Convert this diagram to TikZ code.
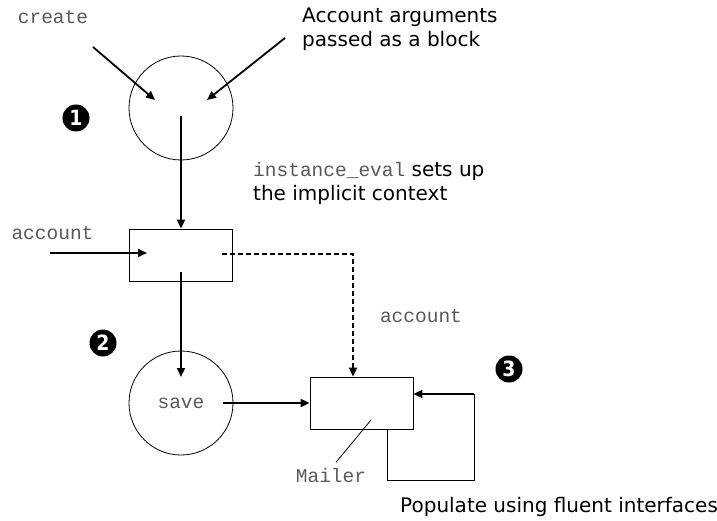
\documentclass[tikz,border=0pt]{standalone}
\usepackage{fontspec}
\setmainfont{DejaVu Sans}
\setmonofont{Liberation Mono}
\newfontfamily\bulletfont{DejaVu Sans Condensed}
\usetikzlibrary{arrows.meta,calc}

\tikzset{
  arr/.style={line width=1.8pt,-{Triangle[length=9pt,width=8pt]}},
  dasharr/.style={arr,dash pattern=on 5pt off 3pt},
  thinline/.style={line width=0.8pt},
  bubble/.style={circle,draw,thinline,minimum size=104pt,inner sep=0pt},
  block/.style={draw,thinline,minimum width=103pt,minimum height=52pt,inner sep=0pt},
  code/.style={font=\fontsize{19.5}{22}\ttfamily,text=black!65},
  note/.style={font=\fontsize{20}{24}\selectfont,align=left,inner sep=0pt},
  bullet/.style={circle,fill=black,minimum size=27pt,inner sep=0pt,text=white,
    font=\fontsize{21}{21}\bulletfont\bfseries}
}

\begin{document}
\begin{tikzpicture}[x=1pt,y=-1pt]
    \useasboundingbox (0,0) rectangle (717,521);
    % Draw the two circles and the two boxes
    \node[bubble] (creator) at (181,108) {};
    \node[block] (acctbox) at (181,255) {};
    \node[bubble,code] (saver) at (181,403) {save};
    \node[block] (mailer) at (361.5,403) {};

    % Labels
    \node[code] (createlbl) at (53,17) {create};
    \node[code] (acctlbl) at (52.5,233) {account};
    \node[code] (acctlbl2) at (421,316) {account};
    \node[code] (mailerlbl) at (331,476) {Mailer};
    \node[note,anchor=west] (argsnote) at (302,29) {Account arguments\\passed as a block};
    \node[note,anchor=west] (evalnote) at (253,184)
        {{\fontsize{19.5}{22}\ttfamily\color{black!65}instance\_eval} sets up\\the implicit context};
    \node[note,anchor=west] (popnote) at (400,507) {Populate using fluent interfaces};

    % Numbered bullets
    \node[bullet] (one) at (76,118) {1};
    \node[bullet] (two) at (103,343) {2};
    \node[bullet] (three) at (509,369) {3};

    % Arrows into the first circle
    \coordinate (createin) at (93,47);
    \coordinate (argsin) at (285,38);
    \draw[arr] (createin) -- ($(creator.center)+(-26,-8)$);
    \draw[arr] (argsin) -- ($(creator.center)+(26,-8)$);

    % Main flow
    \draw[arr] ($(creator.center)+(0,8)$) -- (acctbox.north);
    \coordinate (acctin) at (50,253);
    \draw[arr] (acctin) -- ($(acctbox.center)+(-34,-2)$);
    \draw[arr] ($(acctbox.center)+(0,17)$) -- ($(saver.center)+(0,-26)$);
    \draw[dasharr] ($(acctbox.center)+(41,-1)$) -| ([xshift=-8.5pt]mailer.north);
    \draw[arr] ($(saver.center)+(42,0)$) -- (mailer.west);

    % Fluent loop back into the mailer
    \coordinate (loopbr) at (474,480);
    \coordinate (loopup) at (474,394);
    \draw[thinline] ([xshift=25.5pt]mailer.south) |- (loopbr) -- (loopup);
    \draw[arr] (loopup) -- (loopup -| mailer.east);

    % Pointer to the Mailer label
    \draw[thinline] ($(mailer.center)+(9.5,17)$) -- ([xshift=5pt,yshift=3pt]mailerlbl.north);
\end{tikzpicture}
\end{document}
